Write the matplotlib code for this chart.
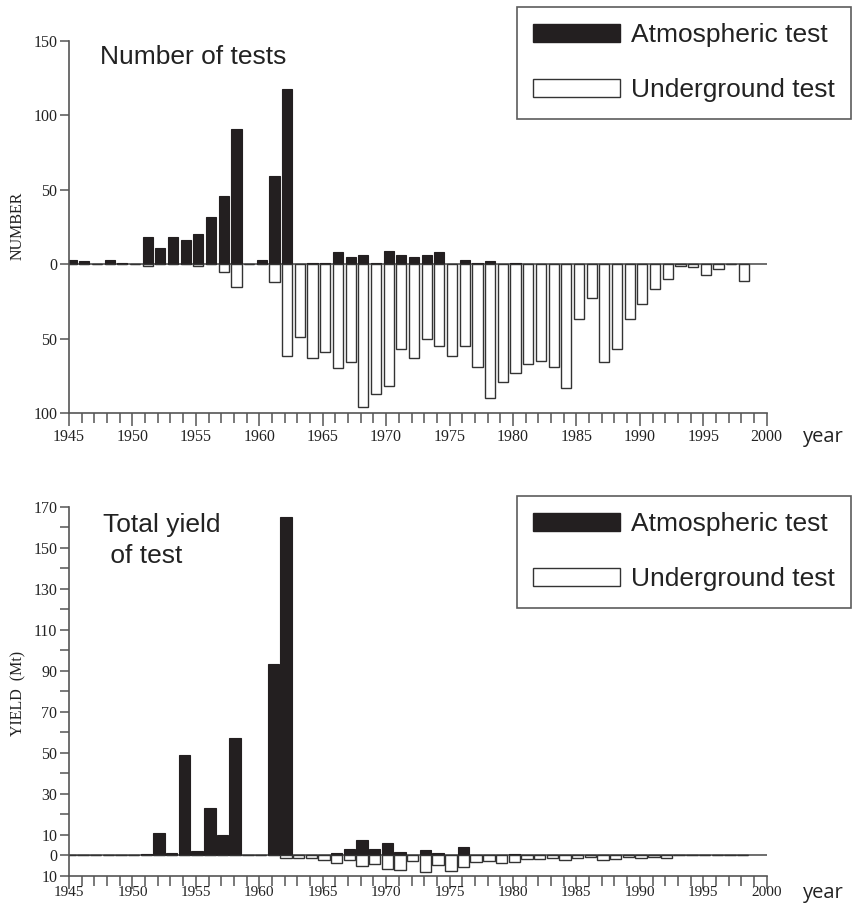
import matplotlib
matplotlib.use("Agg")
import matplotlib.pyplot as plt
from matplotlib.patches import Patch
import numpy as np

# ---- data ----
years = list(range(1945, 1999))

# number of tests per year (1945..1998)
atm_count = [3, 2, 0, 3, 1, 0, 18, 11, 18, 16, 20, 32, 46, 91, 0, 3, 59, 118,
             0, 1, 1, 8, 5, 6, 1, 9, 6, 5, 6, 8, 0, 3, 1, 2, 0, 1,
             0, 0, 0, 0, 0, 0, 0, 0, 0, 0, 0, 0, 0, 0, 0, 0, 0, 0]
und_count = [0, 0, 0, 0, 0, 0, 1, 0, 0, 0, 1, 0, 5, 15, 0, 0, 12, 62,
             49, 63, 59, 70, 66, 96, 87, 82, 57, 63, 50, 55, 62, 55, 69, 90, 79, 73,
             67, 65, 69, 83, 37, 23, 66, 57, 37, 27, 17, 10, 1, 2, 7, 3, 0, 11]

# total yield per year, Mt (1945..1998)
atm_yield = [0, 0, 0, 0, 0, 0, 0.8, 11, 1, 48.9, 2.4, 23.3, 10, 57.2, 0, 0, 93.5, 165,
             0, 0, 0, 1.1, 3.4, 7.6, 3.4, 6, 1.5, 0, 2.7, 1.3, 0, 4.2, 0, 0, 0, 0.6,
             0, 0, 0, 0, 0, 0, 0, 0, 0, 0, 0, 0, 0, 0, 0, 0, 0, 0]
und_yield = [0, 0, 0, 0, 0, 0, 0, 0, 0, 0, 0, 0, 0, 0, 0, 0, 0, 1.1,
             1, 1, 2, 3.9, 2.3, 5.2, 4, 6.8, 7.1, 2.6, 8, 4.4, 7.4, 5.7, 3.2, 2.6, 3.9, 3,
             1.8, 1.6, 1.3, 2.3, 1.3, 0.8, 2.1, 1.6, 0.8, 1.3, 0.6, 1.3, 0, 0, 0, 0, 0, 0]

legend_labels = ["Atmospheric test", "Underground test"]

W, H = 857, 905
BLACK = "#231f20"
GREY = "#555555"
SERIF = "Liberation Serif"
SANS = "Liberation Sans"

fig = plt.figure(figsize=(W / 100, H / 100), dpi=100)


def fx(px):
    return px / W


def fy(py):
    return 1 - py / H


ax1 = fig.add_axes([fx(69), fy(413), fx(766.7) - fx(69), fy(41) - fy(413)])
ax2 = fig.add_axes([fx(69), fy(876), fx(766.7) - fx(69), fy(506.7) - fy(876)])


def style_axes(ax, xpad, major_len, xsize):
    for s in ["top", "right"]:
        ax.spines[s].set_visible(False)
    for s in ["left", "bottom"]:
        ax.spines[s].set_color(GREY)
        ax.spines[s].set_linewidth(1.2)
    ax.set_xlim(1945, 2000)
    ax.set_xticks(range(1945, 2001, 5))
    ax.set_xticks(range(1945, 2001), minor=True)
    ax.tick_params(axis="x", which="major", length=major_len, width=1.1, color=GREY,
                   pad=xpad, labelsize=xsize)
    ax.tick_params(axis="x", which="minor", length=7, width=1.1, color=GREY)
    ax.tick_params(axis="y", which="both", length=6.5, width=1.1, color=GREY, pad=2,
                   labelsize=11.5)
    for lab in ax.get_xticklabels() + ax.get_yticklabels():
        lab.set_fontfamily(SERIF)
        lab.set_color("#222222")
    ax.axhline(0, color=GREY, lw=1.2, zorder=1)


def add_legend(ax, top_px):
    handles = [Patch(facecolor=BLACK, edgecolor=BLACK, lw=1),
               Patch(facecolor="white", edgecolor="#333333", lw=1)]
    leg = ax.legend(handles, legend_labels, loc="upper left",
                    bbox_to_anchor=(fx(517), fy(top_px)), bbox_transform=fig.transFigure,
                    prop={"family": SANS, "size": 19}, frameon=True, fancybox=False,
                    borderpad=0.62, handlelength=3.3, handleheight=0.65,
                    handletextpad=0.4, labelspacing=1.17, borderaxespad=0)
    leg.get_frame().set_edgecolor("#333333")
    leg.get_frame().set_linewidth(1.2)
    for t in leg.get_texts():
        t.set_color("#222222")


# ---- top: number of tests ----
x = np.array(years) + 0.2
ax1.bar(x, atm_count, width=0.8, color=BLACK, edgecolor=BLACK, lw=0.8, zorder=2)
ax1.bar(x, [-v for v in und_count], width=0.8, color="white", edgecolor="#333333",
        lw=1, zorder=2)
ax1.set_ylim(-100, 150)
ax1.set_yticks([-100, -50, 0, 50, 100, 150])
ax1.set_yticklabels(["100", "50", "0", "50", "100", "150"])
style_axes(ax1, 2, 9.5, 11.5)
add_legend(ax1, 7)

fig.text(fx(100), fy(64), "Number of tests", family=SANS, size=19, color="#222222",
         va="baseline", ha="left")
fig.text(fx(18), fy(226), "NUMBER", family=SERIF, size=11.5, rotation=90,
         ha="center", va="center", color="#222222")
fig.text(fx(803), fy(437), "year", family="Open Sans", size=14.5, ha="left",
         va="center", color="#222222")

# ---- bottom: total yield ----
x2 = np.array(years) + 0.1
ax2.bar(x2, atm_yield, width=0.9, color=BLACK, edgecolor=BLACK, lw=0.8, zorder=2)
ax2.bar(x2, [-v for v in und_yield], width=0.9, color="white", edgecolor="#333333",
        lw=1, zorder=2)
ax2.set_ylim(-10, 170)
ax2.set_yticks(range(-10, 171, 10))
ylabels = []
for v in range(-10, 171, 10):
    if v in (-10, 0):
        ylabels.append(str(abs(v)))
    elif (v // 10) % 2 == 1:
        ylabels.append(str(v))
    else:
        ylabels.append("")
ax2.set_yticklabels(ylabels)
style_axes(ax2, -2, 9, 11)
add_legend(ax2, 496)

fig.text(fx(103), fy(532), "Total yield", family=SANS, size=19, color="#222222",
         va="baseline", ha="left")
fig.text(fx(103), fy(563), " of test", family=SANS, size=19, color="#222222",
         va="baseline", ha="left")
fig.text(fx(18), fy(693), "YIELD  (Mt)", family=SERIF, size=11.5, rotation=90,
         ha="center", va="center", color="#222222")
fig.text(fx(803), fy(893), "year", family="Open Sans", size=14.5, ha="left",
         va="center", color="#222222")

fig.savefig("out.png", dpi=100)
